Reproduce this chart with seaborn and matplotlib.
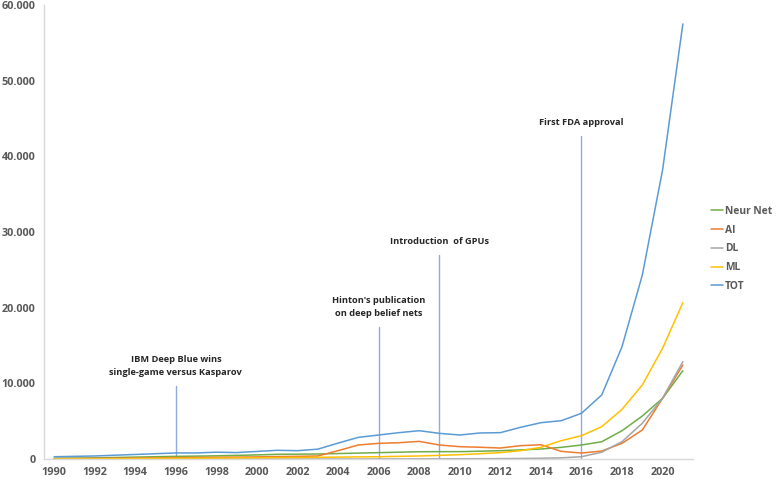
import matplotlib
matplotlib.use("Agg")
import matplotlib.pyplot as plt
import matplotlib.ticker as mticker
import seaborn as sns
import pandas as pd

years = list(range(1990, 2022))
neur_net = [100, 120, 150, 200, 250, 300, 350, 380, 420, 480, 540, 620, 640, 660, 720, 780, 840, 900, 960, 970, 970, 1030, 1100, 1200, 1320, 1540, 1850, 2280, 3740, 5680, 8020, 11670]
ai = [50, 60, 80, 100, 120, 150, 180, 200, 220, 250, 280, 320, 350, 400, 1100, 1850, 2070, 2150, 2330, 1850, 1630, 1550, 1450, 1760, 1890, 1010, 790, 1050, 2070, 3830, 8020, 12420]
dl = [0, 0, 0, 0, 0, 0, 0, 0, 0, 0, 0, 0, 0, 0, 0, 0, 10, 10, 20, 20, 30, 40, 50, 70, 100, 150, 300, 900, 2290, 4720, 8020, 12860]
ml = [0, 10, 20, 30, 50, 70, 90, 100, 120, 140, 160, 180, 200, 220, 250, 280, 300, 350, 400, 480, 570, 700, 840, 1100, 1540, 2420, 3080, 4270, 6560, 9780, 14630, 20660]
tot = [300, 350, 400, 500, 600, 700, 800, 800, 900, 850, 1000, 1150, 1100, 1300, 2100, 2860, 3170, 3480, 3740, 3390, 3170, 3440, 3480, 4190, 4800, 5060, 6040, 8460, 14840, 24300, 38200, 57500]

series_names = ["Neur Net", "AI", "DL", "ML", "TOT"]
colors = ["#70AD47", "#ED7D31", "#A5A5A5", "#FFC000", "#5B9BD5"]

event_years = [1996, 2006, 2009, 2016]
event_tops = [9700, 17500, 27000, 42700]
event_labels = ["IBM Deep Blue wins\nsingle-game versus Kasparov",
                "Hinton's publication\non deep belief nets",
                "Introduction  of GPUs",
                "First FDA approval"]

x_ticks = list(range(1990, 2021, 2))
y_ticks = [0, 10000, 20000, 30000, 40000, 50000, 60000]

rows = []
for name, vals in zip(series_names, [neur_net, ai, dl, ml, tot]):
    for y, v in zip(years, vals):
        rows.append({"Year": y, "Count": v, "Series": name})
df = pd.DataFrame(rows)

sns.set_theme(style="white")
plt.rcParams["font.family"] = ["Open Sans", "DejaVu Sans"]

fig = plt.figure(figsize=(7.77, 4.79), dpi=100)
ax = fig.add_axes([44 / 777, 1 - 459 / 479, (693 - 44) / 777, (459 - 5) / 479])

sns.lineplot(data=df, x="Year", y="Count", hue="Series", hue_order=series_names,
             palette=colors, linewidth=1.1, ax=ax, legend=True)

for yr, top, lab in zip(event_years, event_tops, event_labels):
    ax.plot([yr, yr], [0, top], color="#8FAADC", linewidth=1.0, zorder=1)
    ax.text(yr, top + 1200, lab, ha="center", va="bottom", fontsize=6.7,
            fontweight="bold", color="#262626", linespacing=1.5)

ax.set_xlim(1989.5, 2021.5)
ax.set_ylim(0, 60000)
ax.set_xticks(x_ticks)
ax.set_yticks(y_ticks)
ax.yaxis.set_major_formatter(mticker.FuncFormatter(lambda v, p: f"{int(v):,}".replace(",", ".")))
ax.set_xlabel("")
ax.set_ylabel("")
for lbl in ax.get_xticklabels() + ax.get_yticklabels():
    lbl.set_fontweight("bold")
    lbl.set_color("#595959")
    lbl.set_fontsize(7.8)
ax.tick_params(axis="both", length=0, pad=6)
for s in ["top", "right"]:
    ax.spines[s].set_visible(False)
for s in ["left", "bottom"]:
    ax.spines[s].set_color("#D9D9D9")
    ax.spines[s].set_linewidth(1.0)

handles, labels = ax.get_legend_handles_labels()
ax.legend_.remove()
leg = fig.legend(handles, labels, loc="upper left", bbox_to_anchor=(711 / 777, 1 - 206 / 479),
                 frameon=False, fontsize=7.4, handlelength=1.2, handletextpad=0.15,
                 labelspacing=0.75, borderaxespad=0, borderpad=0)
for t in leg.get_texts():
    t.set_fontweight("bold")
    t.set_color("#595959")

fig.savefig("out.png", dpi=100)
